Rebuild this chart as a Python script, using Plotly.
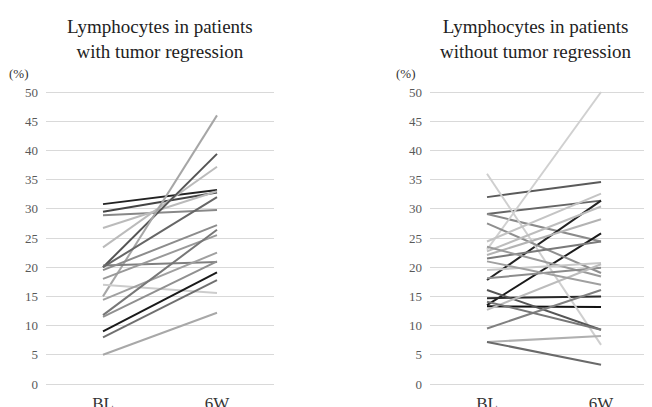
import plotly.graph_objects as go

categories = ["BL", "6W"]
tick_vals = [0, 5, 10, 15, 20, 25, 30, 35, 40, 45, 50]

# Patients with tumor regression: (BL, 6W)
reg_bl = [30.8, 29.5, 28.9, 26.7, 23.4, 20.0, 15.0, 20.3, 20.0, 19.5, 18.0, 17.0, 14.4, 11.8, 11.5, 9.0, 8.0, 5.0]
reg_6w = [33.2, 32.8, 29.8, 33.0, 37.2, 39.4, 46.0, 20.9, 32.0, 27.2, 25.5, 15.6, 22.5, 26.4, 21.0, 19.1, 17.8, 12.2]
reg_col = ["#222222", "#444444", "#888888", "#bbbbbb", "#bbbbbb", "#555555", "#a6a6a6", "#7f7f7f",
           "#666666", "#8c8c8c", "#999999", "#cccccc", "#a0a0a0", "#777777", "#909090", "#1a1a1a", "#707070", "#a8a8a8"]

# Patients without tumor regression: (BL, 6W)
non_bl = [32.0, 29.1, 29.1, 17.8, 13.5, 14.7, 13.3, 36.0, 23.0, 27.5, 24.4, 22.7, 22.1, 21.5, 23.5, 19.5, 18.1, 16.1, 9.5, 12.7, 7.2, 7.2, 14.1, 21.0]
non_6w = [34.6, 31.4, 24.4, 31.4, 25.8, 15.0, 13.2, 6.7, 50.0, 19.0, 32.6, 30.4, 28.2, 24.4, 18.4, 20.7, 19.9, 9.3, 16.1, 20.5, 8.2, 3.3, 9.3, 17.0]
non_col = ["#5a5a5a", "#666666", "#8a8a8a", "#222222", "#1a1a1a", "#2a2a2a", "#111111", "#cfcfcf",
           "#d0d0d0", "#8f8f8f", "#c4c4c4", "#bdbdbd", "#b3b3b3", "#7a7a7a", "#9a9a9a", "#c8c8c8",
           "#8c8c8c", "#555555", "#808080", "#bcbcbc", "#b0b0b0", "#6a6a6a", "#777777", "#a0a0a0"]

# page body has an 8px margin: work in screen pixels and convert
OFF = 8
W, H = 652 - OFF, 407 - OFF


def fx(sx):
    return (sx - OFF) / W


def fy(sy):
    return (H - (sy - OFF)) / H


fig = go.Figure()

for b, s, c in zip(reg_bl, reg_6w, reg_col):
    fig.add_trace(go.Scatter(x=categories, y=[b, s], mode="lines",
                             line=dict(color=c, width=2), xaxis="x", yaxis="y",
                             showlegend=False, hoverinfo="skip"))
for b, s, c in zip(non_bl, non_6w, non_col):
    fig.add_trace(go.Scatter(x=categories, y=[b, s], mode="lines",
                             line=dict(color=c, width=2), xaxis="x2", yaxis="y2",
                             showlegend=False, hoverinfo="skip"))

px_per_unit = (384 - 92) / 50.0
ybot = fy(384 + 0.5 * px_per_unit)
ytop = fy(92 - 0.5 * px_per_unit)

serif = "Liberation Serif, Times New Roman, serif"
axis_common = dict(showline=False, zeroline=False, ticks="", showgrid=False, automargin=False,
                   tickfont=dict(family=serif, size=17, color="#333333"),
                   type="category", ticklabelstandoff=4)
yaxis_common = dict(range=[-0.5, 50.5], tickvals=tick_vals, showgrid=True, automargin=False,
                    gridcolor="#d9d9d9", gridwidth=1, zeroline=False, showline=False,
                    tickfont=dict(family=serif, size=13, color="#595959"),
                    ticks="", ticklabelstandoff=7)

fig.update_layout(
    width=W, height=H,
    margin=dict(l=0, r=0, t=0, b=0),
    paper_bgcolor="white", plot_bgcolor="white",
    font=dict(family=serif),
    xaxis=dict(domain=[fx(46), fx(274)], range=[-0.5, 1.5], anchor="y", **axis_common),
    yaxis=dict(domain=[ybot, ytop], anchor="x", **yaxis_common),
    xaxis2=dict(domain=[fx(430), 1.0], range=[-0.5, 1.447], anchor="y2", **axis_common),
    yaxis2=dict(domain=[ybot, ytop], anchor="x2", **yaxis_common),
    annotations=[
        dict(text="Lymphocytes in patients<br>with tumor regression", x=fx(160), y=fy(14),
             xref="paper", yref="paper", xanchor="center", yanchor="top", showarrow=False,
             font=dict(family=serif, size=19, color="#222222"), align="center"),
        dict(text="Lymphocytes in patients<br>without tumor regression", x=fx(536), y=fy(14),
             xref="paper", yref="paper", xanchor="center", yanchor="top", showarrow=False,
             font=dict(family=serif, size=19, color="#222222"), align="center"),
        dict(text="(%)", x=fx(19), y=fy(73), xref="paper", yref="paper",
             xanchor="center", yanchor="middle", showarrow=False,
             font=dict(family=serif, size=13, color="#333333")),
        dict(text="(%)", x=fx(406), y=fy(73), xref="paper", yref="paper",
             xanchor="center", yanchor="middle", showarrow=False,
             font=dict(family=serif, size=13, color="#333333")),
    ],
)

fig.write_html("out.html")
